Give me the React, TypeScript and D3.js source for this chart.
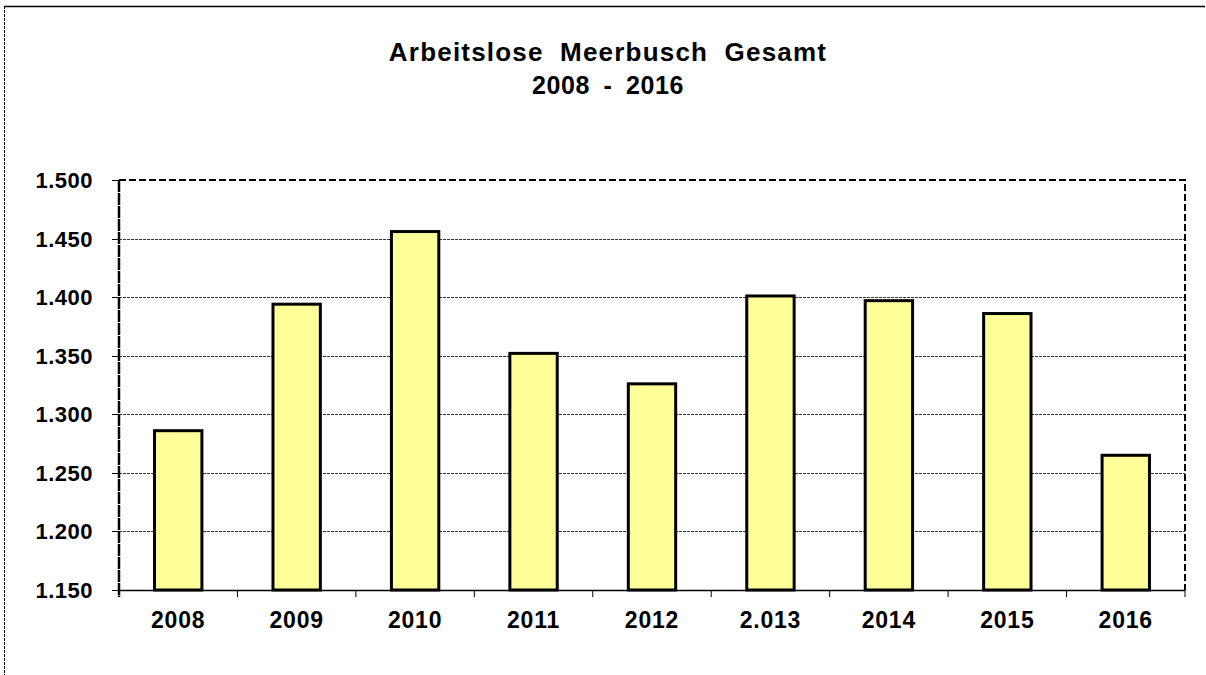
import * as d3 from "d3";
import { useRef, useEffect } from "react";

const years = ["2008", "2009", "2010", "2011", "2012", "2.013", "2014", "2015", "2016"];
const values = [1286, 1394, 1456, 1352, 1326, 1401, 1397, 1386, 1265];
const yTicks = [1150, 1200, 1250, 1300, 1350, 1400, 1450, 1500];

export default function App() {
  const svgRef = useRef<SVGSVGElement>(null);

  useEffect(() => {
    const WIDTH = 1206;
    const HEIGHT = 675;
    const left = 119, right = 1185, top = 180, bottom = 590;
    const font = "'Liberation Sans', Arial, sans-serif";

    const svg = d3.select(svgRef.current)
      .attr("width", WIDTH)
      .attr("height", HEIGHT);
    svg.selectAll("*").remove();

    svg.append("rect").attr("width", WIDTH).attr("height", HEIGHT).attr("fill", "white");

    // outer frame (only left and top visible)
    svg.append("line").attr("x1", 4.5).attr("y1", 6).attr("x2", 4.5).attr("y2", HEIGHT)
      .attr("stroke", "#000").attr("stroke-width", 1).attr("stroke-dasharray", "3,1");
    svg.append("line").attr("x1", 4).attr("y1", 6.5).attr("x2", 1205).attr("y2", 6.5)
      .attr("stroke", "#000").attr("stroke-width", 1.5);

    // title
    const title = svg.append("text")
      .attr("text-anchor", "middle")
      .attr("font-family", font)
      .attr("font-weight", "bold")
      .attr("fill", "#000");
    title.append("tspan").attr("x", 608).attr("y", 61)
      .attr("font-size", 26).attr("letter-spacing", 1.2).attr("word-spacing", 8)
      .text("Arbeitslose Meerbusch Gesamt");
    title.append("tspan").attr("x", 608).attr("y", 94)
      .attr("font-size", 25).attr("letter-spacing", 0.6).attr("word-spacing", 6)
      .text("2008 - 2016");

    const x = d3.scaleBand().domain(years).range([left, right]).paddingInner(0.6).paddingOuter(0.3);
    const y = d3.scaleLinear().domain([1150, 1500]).range([bottom, top]);

    // gridlines
    svg.append("g").selectAll("line")
      .data(yTicks.filter(t => t > 1150 && t < 1500))
      .join("line")
      .attr("x1", left).attr("x2", right)
      .attr("y1", d => Math.round(y(d)) + 0.5).attr("y2", d => Math.round(y(d)) + 0.5)
      .attr("stroke", "#333").attr("stroke-width", 1).attr("stroke-dasharray", "3,1");

    // plot border top & right (dashed)
    svg.append("path")
      .attr("d", `M${left},${top}H${right}V${bottom}`)
      .attr("fill", "none").attr("stroke", "#000").attr("stroke-width", 2)
      .attr("stroke-dasharray", "7,3");

    // bars
    svg.append("g").selectAll("rect")
      .data(values)
      .join("rect")
      .attr("x", (d, i) => x(years[i])!)
      .attr("y", d => y(d))
      .attr("width", x.bandwidth())
      .attr("height", d => bottom - y(d))
      .attr("fill", "#ffff99")
      .attr("stroke", "#000")
      .attr("stroke-width", 3);

    // y axis
    svg.append("line").attr("x1", left).attr("x2", left).attr("y1", top).attr("y2", bottom + 7)
      .attr("stroke", "#000").attr("stroke-width", 2.5).attr("stroke-dasharray", "12,1");
    const yAxis = svg.append("g");
    yAxis.selectAll("line").data(yTicks).join("line")
      .attr("x1", left - 7).attr("x2", left)
      .attr("y1", d => Math.round(y(d)) + 0.5).attr("y2", d => Math.round(y(d)) + 0.5)
      .attr("stroke", "#000").attr("stroke-width", 1);
    yAxis.selectAll("text").data(yTicks).join("text")
      .attr("x", 93).attr("y", d => y(d) + 8)
      .attr("text-anchor", "end")
      .attr("font-family", font).attr("font-weight", "bold").attr("font-size", 22)
      .attr("letter-spacing", 0.5)
      .text(d => d3.format(",")(d).replace(",", "."));

    // x axis
    svg.append("line").attr("x1", left).attr("x2", right).attr("y1", bottom + 0.5).attr("y2", bottom + 0.5)
      .attr("stroke", "#000").attr("stroke-width", 1.5);
    const xAxis = svg.append("g");
    xAxis.selectAll("line").data(d3.range(years.length + 1)).join("line")
      .attr("x1", i => left + i * x.step()).attr("x2", i => left + i * x.step())
      .attr("y1", bottom).attr("y2", bottom + 7)
      .attr("stroke", "#000").attr("stroke-width", 1);
    xAxis.selectAll("text").data(years).join("text")
      .attr("x", d => x(d)! + x.bandwidth() / 2)
      .attr("y", 628)
      .attr("text-anchor", "middle")
      .attr("font-family", font).attr("font-weight", "bold").attr("font-size", 23)
      .attr("letter-spacing", 0.8)
      .text(d => d);
  }, []);

  return (
    <div style={{ position: "absolute", left: 0, top: 0 }}>
      <svg ref={svgRef} style={{ display: "block" }} />
    </div>
  );
}
